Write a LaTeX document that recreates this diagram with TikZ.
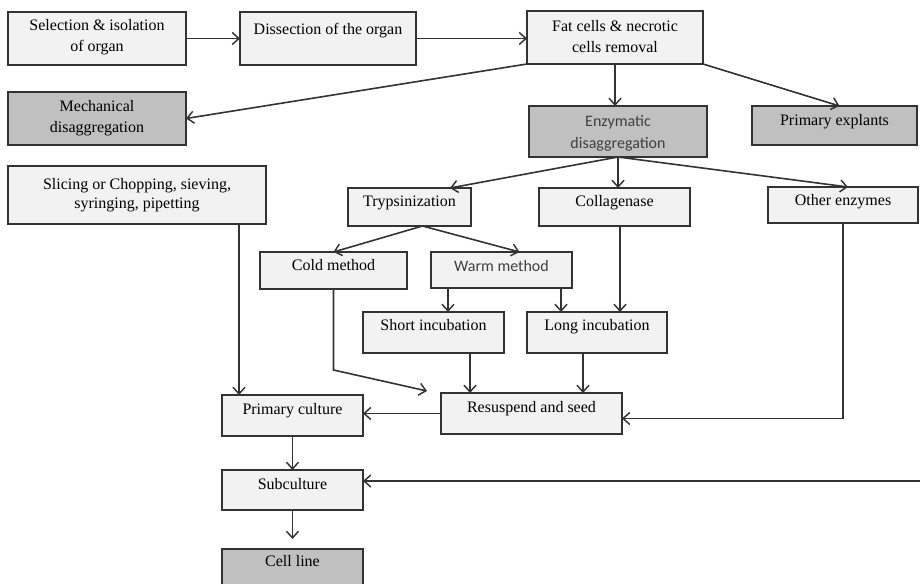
\documentclass[tikz,border=0pt]{standalone}
\usepackage{fontspec}
\setmainfont{Liberation Serif}
\newfontfamily\calfont{Carlito}
\usetikzlibrary{arrows.meta,calc}
\definecolor{lightbox}{HTML}{F2F2F2}
\definecolor{darkbox}{HTML}{C0C0C0}
\definecolor{edge}{HTML}{333333}
\newcommand\mkbox[6]{\node[#6, minimum width={(#4-#2)*0.75pt}, minimum height={(#5-#3)*0.75pt}] (#1) at ({(#2+#4)/2},{(#3+#5)/2}) {};}
\begin{document}
\begin{tikzpicture}[x=0.75pt,y=-0.75pt,
 box/.style={draw=edge, line width=1.2pt, fill=lightbox, inner sep=0pt, outer sep=0pt},
 dbox/.style={box, fill=darkbox},
 txt/.style={inner sep=0pt, align=center, font=\fontsize{12pt}{15.5pt}\selectfont, text=black},
 one/.style={txt, text height=0.7em, text depth=0.22em},
 sans/.style={font=\fontsize{12pt}{16.5pt}\selectfont\calfont, text=black!75},
 arr/.style={draw=edge, line width=1.2pt, -{Straight Barb[length=5pt,width=9pt,line width=1.1pt]}}]
\useasboundingbox (0,0) rectangle (920,584);
\clip (0,0) rectangle (920,584);
% boxes
\mkbox{sel}{8}{12}{186}{65}{box}
\mkbox{dis}{240}{12}{416}{65}{box}
\mkbox{fat}{527}{11}{703}{64}{box}
\mkbox{mech}{8}{92}{186}{145}{dbox}
\mkbox{enz}{529}{106}{707}{157}{dbox}
\mkbox{expl}{752}{106}{917}{145}{dbox}
\mkbox{slic}{8}{166}{266}{224}{box}
\mkbox{tryp}{348}{188}{471}{226}{box}
\mkbox{coll}{539}{188}{690}{226}{box}
\mkbox{oth}{768}{187}{918}{223}{box}
\mkbox{cold}{260}{252}{407}{289}{box}
\mkbox{warm}{431}{252}{572}{288}{box}
\mkbox{short}{363}{312}{504}{353}{box}
\mkbox{long}{527}{312}{667}{353}{box}
\mkbox{prim}{222}{395}{363}{436}{box}
\mkbox{res}{441}{393}{622}{434}{box}
\mkbox{sub}{222}{470}{363}{510}{box}
\mkbox{cell}{222}{549}{363}{600}{dbox}
% texts
\node[txt] (sel-t) at (97,37) {Selection \& isolation\\of organ};
\node[one] (dis-t) at (328,31) {Dissection of the organ};
\node[txt] (fat-t) at (615,36.5) {Fat cells \& necrotic\\cells removal};
\node[txt] (mech-t) at (97,118) {Mechanical\\disaggregation};
\node[txt,sans] (enz-t) at (618,133.5) {Enzymatic\\disaggregation};
\node[one] (expl-t) at (834.5,122) {Primary explants};
\node[txt, font=\fontsize{12pt}{13.8pt}\selectfont] (slic-t) at (137,195) {Slicing or Chopping, sieving,\\syringing, pipetting};
\node[one] (tryp-t) at (409.5,203) {Trypsinization};
\node[one] (coll-t) at (614.5,203) {Collagenase};
\node[one] (oth-t) at (843,202) {Other enzymes};
\node[one] (cold-t) at (333.5,267) {Cold method};
\node[one,sans] (warm-t) at (501.5,268) {Warm method};
\node[one] (short-t) at (433.5,327) {Short incubation};
\node[one] (long-t) at (597,327) {Long incubation};
\node[one] (prim-t) at (292.5,411) {Primary culture};
\node[one] (res-t) at (531.5,409) {Resuspend and seed};
\node[one] (sub-t) at (292.5,486) {Subculture};
\node[one] (cell-t) at (292.5,563) {Cell line};
% free ends
\coordinate (coldend) at (427,391);
\coordinate (rightin) at (920,481);
% connectors
\draw[arr] (sel.east) -- (sel.east -| dis.west);
\draw[arr] (dis.east) -- (dis.east -| fat.west);
\draw[arr] (fat.south west) -- (mech.east);
\draw[arr] (fat.south) -- (fat.south |- enz.north);
\draw[arr] (fat.south east) -- ($(expl.north)+(5,0)$);
\draw[arr] (enz.south) -- ($(tryp.north east)+(-21,0)$);
\draw[arr] (enz.south) -- (enz.south |- coll.north);
\draw[arr] (enz.south) -- ($(oth.north)+(5,0)$);
\coordinate (tsplit) at ($(tryp.south)+(13,0)$);
\draw[arr] (tsplit) -- (cold.north);
\draw[arr] (tsplit) -- ($(warm.north)+(18,0)$);
\draw[arr] (448,0 |- warm.south) -- (448,0 |- short.north);
\draw[arr] (561,0 |- warm.south) -- (561,0 |- long.north);
\draw[arr] (620,0 |- coll.south) -- (620,0 |- long.north);
\draw[arr] (cold.south) -- (cold.south |- 0,370) -- (coldend);
\draw[arr] (470,0 |- short.south) -- (470,0 |- res.north);
\draw[arr] (583,0 |- long.south) -- (583,0 |- res.north);
\draw[arr] (oth.south) |- ($(res.east)+(0,5)$);
\draw[arr] (239,0 |- slic.south) -- (239,0 |- prim.north);
\draw[arr] (res.west) -- (res.west -| prim.east);
\draw[arr] (prim.south) -- (prim.south |- sub.north);
\draw[arr] (sub.south) -- ($(cell.north)+(0,-10)$);
\draw[arr] (rightin) -- (rightin -| sub.east);
\end{tikzpicture}
\end{document}
